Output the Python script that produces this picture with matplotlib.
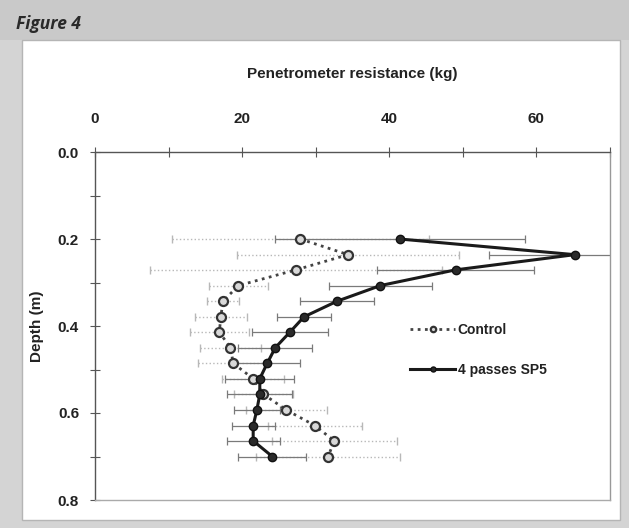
import numpy as np
import matplotlib.pyplot as plt
from matplotlib.patches import Rectangle

plt.rcParams['font.family'] = ['Liberation Sans', 'DejaVu Sans']

# depth of each reading (m)
depth = [0.200, 0.236, 0.271, 0.307, 0.343, 0.379, 0.414, 0.450,
         0.486, 0.521, 0.557, 0.593, 0.629, 0.664, 0.700]

# Control plot
control = [27.9, 34.4, 27.3, 19.5, 17.4, 17.1, 16.9, 18.4,
           18.8, 21.5, 22.9, 26.0, 29.9, 32.5, 31.7]
control_err = [17.5, 15.1, 19.8, 4.0, 2.2, 3.5, 4.0, 4.1,
               4.8, 4.2, 4.0, 5.5, 6.4, 8.5, 9.8]

# 4 passes SP5
sp5 = [41.4, 65.2, 49.0, 38.8, 32.9, 28.4, 26.5, 24.5,
       23.4, 22.4, 22.4, 22.0, 21.5, 21.5, 24.1]
sp5_err = [17.0, 11.7, 10.7, 7.0, 5.0, 3.7, 5.2, 5.0,
           4.5, 4.7, 4.4, 3.1, 2.9, 3.6, 4.6]

fig = plt.figure(figsize=(6.29, 5.28), dpi=100)
fig.patch.set_facecolor('#d4d4d4')

# header band + white panel
fig.patches.append(Rectangle((0, 1 - 40/528), 1, 40/528, transform=fig.transFigure,
                             facecolor='#c9c9c9', edgecolor='none', zorder=-2))
fig.patches.append(Rectangle((22/629, 1 - 520/528), 598/629, 480/528, transform=fig.transFigure,
                             facecolor='white', edgecolor='#b5b5b5', lw=1, zorder=-2))
fig.text(16/629, 1 - 24/528, 'Figure 4', fontsize=12.5, style='italic', fontweight='bold',
         color='#2a2a2a', va='center', ha='left', family=['Open Sans', 'DejaVu Sans'])

ax = fig.add_axes([95/629, 1 - 500/528, 515/629, 348/528])
ax.set_facecolor('none')

# error bars first
eb = ax.errorbar(control, depth, xerr=control_err, fmt='none', ecolor='#b8b8b8',
                 elinewidth=1, capsize=3, capthick=1, zorder=2)
eb[2][0].set_linestyle(':')
ax.errorbar(sp5, depth, xerr=sp5_err, fmt='none', ecolor='#7a7a7a',
            elinewidth=0.9, capsize=3, capthick=0.9, zorder=2)

ax.plot(control, depth, linestyle=(0, (1, 1.6)), color='#444444', lw=2,
        marker='o', markersize=6.5, markerfacecolor='#d8d8d8', markeredgecolor='#333333',
        markeredgewidth=1.6, label='Control', zorder=4)
ax.plot(sp5, depth, linestyle='-', color='#1a1a1a', lw=2.2,
        marker='o', markersize=6, markerfacecolor='#2a2a2a', markeredgecolor='#111111',
        label='4 passes SP5', zorder=5)

ax.set_xlim(0, 70)
ax.set_ylim(0.8, 0.0)
ax.xaxis.tick_top()
ax.xaxis.set_label_position('top')
ax.set_xticks([0, 10, 20, 30, 40, 50, 60, 70])
ax.set_xticklabels(['0', '', '20', '', '40', '', '60', ''])
ax.set_yticks([0.0, 0.1, 0.2, 0.3, 0.4, 0.5, 0.6, 0.7, 0.8])
ax.set_yticklabels(['0.0', '', '0.2', '', '0.4', '', '0.6', '', '0.8'])
ax.tick_params(axis='both', direction='inout', length=7, width=0.8, color='#555555',
               labelsize=11, pad=8)
ax.tick_params(axis='x', pad=15)
for lab in ax.get_xticklabels() + ax.get_yticklabels():
    lab.set_fontweight('bold')
    lab.set_color('#222222')

ax.set_xlabel('Penetrometer resistance (kg)', fontsize=11, fontweight='bold',
              color='#222222', labelpad=25)
ax.set_ylabel('Depth (m)', fontsize=11, fontweight='bold', color='#222222', labelpad=10)

ax.spines['left'].set_color('#555555')
ax.spines['top'].set_color('#555555')
ax.spines['right'].set_color('#999999')
ax.spines['bottom'].set_color('#aaaaaa')
for s in ax.spines.values():
    s.set_linewidth(1.0)

leg = ax.legend(loc='upper left', bbox_to_anchor=(0.588, 0.545), frameon=False,
                handlelength=3.2, handletextpad=0.2, labelspacing=1.9, fontsize=10,
                markerscale=0.6)
for t in leg.get_texts():
    t.set_fontweight('bold')
    t.set_color('#222222')

fig.savefig('out.png', dpi=100, facecolor=fig.get_facecolor())
